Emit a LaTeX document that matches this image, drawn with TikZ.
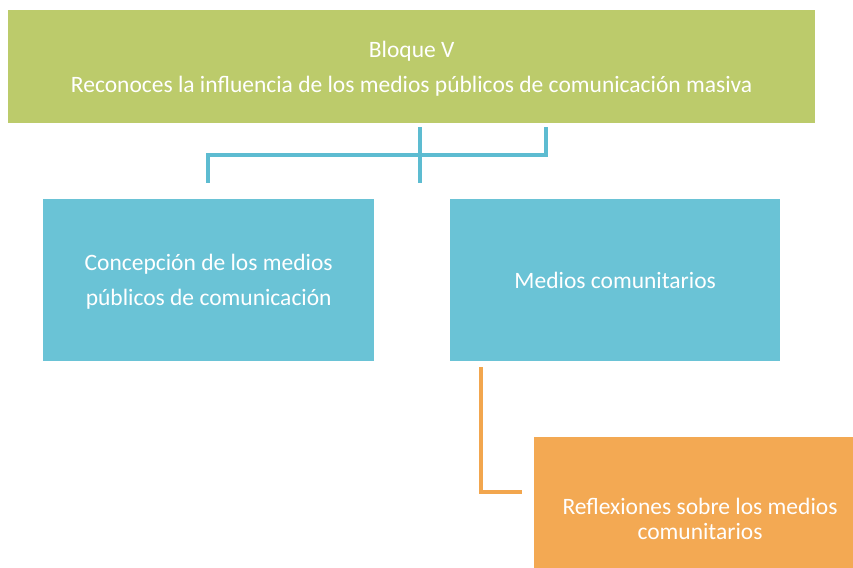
\documentclass[tikz,border=0pt]{standalone}
\usepackage{fontspec}
\setmainfont{Carlito}
\definecolor{greenbox}{HTML}{BCCB6B}
\definecolor{bluebox}{HTML}{6AC3D6}
\definecolor{orangebox}{HTML}{F3A953}
\definecolor{tealline}{HTML}{5DBCD1}
\definecolor{orangeline}{HTML}{F2A64E}
\tikzset{
  box/.style={rectangle, draw=none, anchor=north west, inner sep=0pt},
  boxtext/.style={text=white, align=center, font=\fontsize{23.5}{35}\selectfont},
  tighttext/.style={text=white, align=center, font=\fontsize{23.5}{25}\selectfont},
  tline/.style={draw=tealline, line width=4pt},
  oline/.style={draw=orangeline, line width=4pt},
}
\begin{document}
\begin{tikzpicture}[x=1pt,y=-1pt]
\useasboundingbox (0,0) rectangle (853,567);
\fill[white] (0,0) rectangle (853,567);
% boxes
\node[box, fill=greenbox, minimum width=807pt, minimum height=113pt] (top) at (8,10) {};
\node[boxtext] (toptext) at ([yshift=-2pt]top.center) {Bloque V\\Reconoces la influencia de los medios públicos de comunicación masiva};
\node[box, fill=bluebox, minimum width=331pt, minimum height=162pt] (left) at (43,199) {};
\node[boxtext] (lefttext) at ([yshift=-2pt]left.center) {Concepción de los medios\\públicos de comunicación};
\node[box, fill=bluebox, minimum width=330pt, minimum height=162pt] (right) at (450,199) {};
\node[boxtext] (righttext) at (right.center) {Medios comunitarios};
\node[box, fill=orangebox, minimum width=320pt, minimum height=131pt] (refl) at (534,437) {};
\node[tighttext] (refltext) at (700,519) {Reflexiones sobre los medios\\comunitarios};
% teal connectors
\coordinate (a1) at (420,127);
\coordinate (a2) at (420,183);
\coordinate (b1) at (546,127);
\coordinate (b2) at (546,155);
\coordinate (c1) at (208,155);
\coordinate (c2) at (208,183);
\draw[tline] (a1) -- (a2);
\draw[tline] (b1) -- (b2) -- (c1) -- (c2);
% orange connector
\coordinate (d1) at (481,367);
\coordinate (d2) at (481,492);
\coordinate (d3) at (522,492);
\draw[oline] (d1) -- (d2) -- (d3);
\end{tikzpicture}
\end{document}
